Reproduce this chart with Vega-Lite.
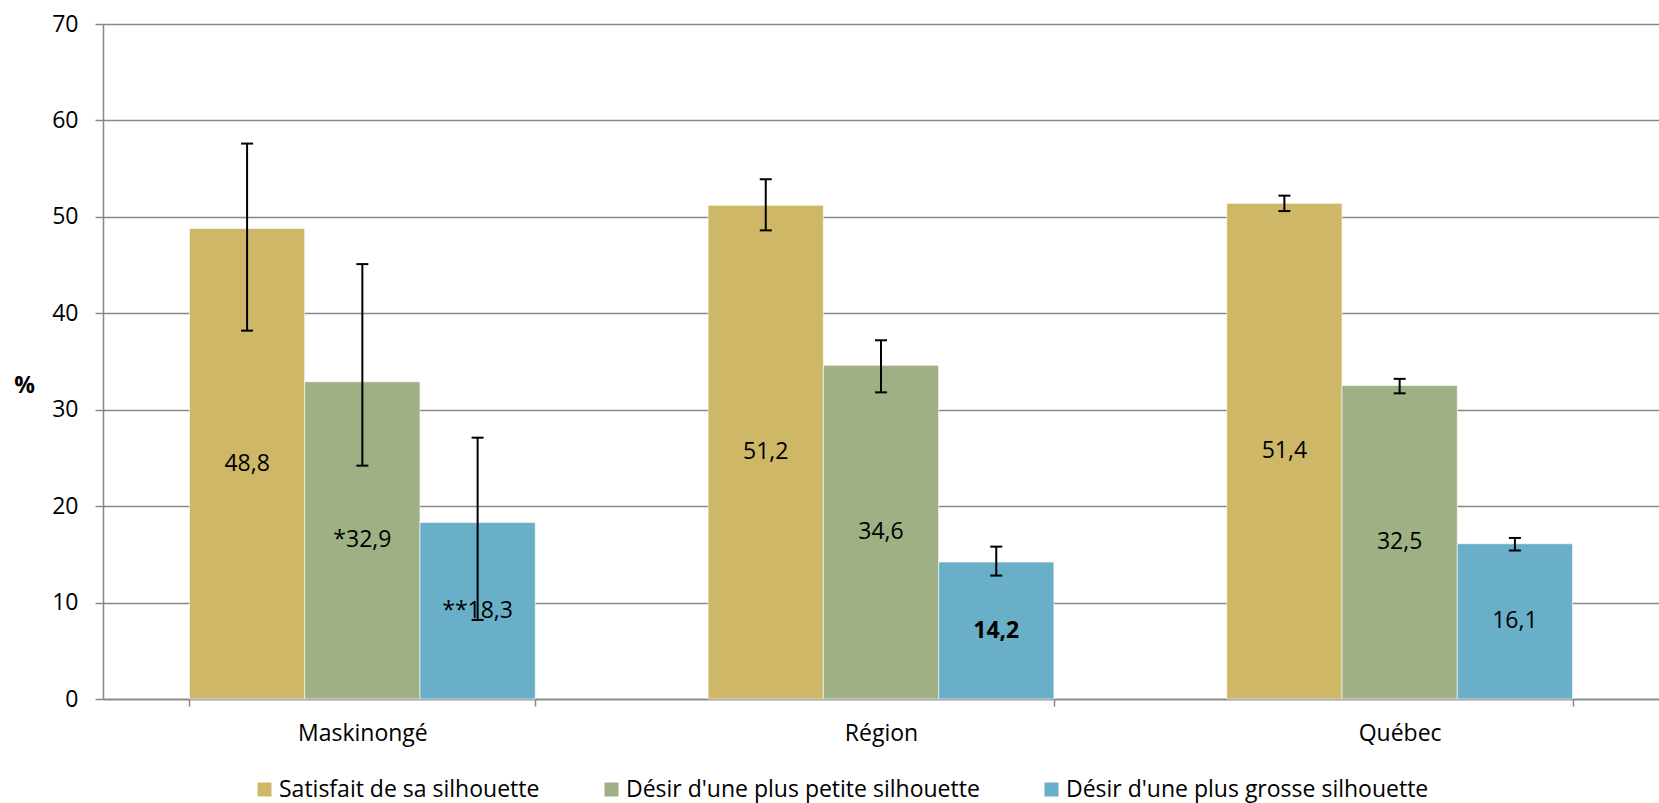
{
  "$schema": "https://vega.github.io/schema/vega-lite/v6.json",
  "width": 1556,
  "height": 675,
  "autosize": {"type": "none"},
  "padding": {"left": 103, "top": 24, "right": 0, "bottom": 104},
  "background": "white",
  "config": {
    "font": "Open Sans",
    "view": {"stroke": null},
    "axis": {"labelFont": "Open Sans", "titleFont": "Open Sans", "labelColor": "#000000", "titleColor": "#000000"},
    "legend": {"labelFont": "Open Sans"}
  },
  "data": {
    "values": [
      {"zone": "Maskinongé", "serie": "Satisfait de sa silhouette", "value": 48.8, "lo": 38.2, "hi": 57.6, "label": "48,8"},
      {"zone": "Maskinongé", "serie": "Désir d'une plus petite silhouette", "value": 32.9, "lo": 24.2, "hi": 45.1, "label": "*32,9"},
      {"zone": "Maskinongé", "serie": "Désir d'une plus grosse silhouette", "value": 18.3, "lo": 8.2, "hi": 27.1, "label": "**18,3"},
      {"zone": "Région", "serie": "Satisfait de sa silhouette", "value": 51.2, "lo": 48.6, "hi": 53.9, "label": "51,2"},
      {"zone": "Région", "serie": "Désir d'une plus petite silhouette", "value": 34.6, "lo": 31.8, "hi": 37.2, "label": "34,6"},
      {"zone": "Région", "serie": "Désir d'une plus grosse silhouette", "value": 14.2, "lo": 12.8, "hi": 15.8, "label": "14,2"},
      {"zone": "Québec", "serie": "Satisfait de sa silhouette", "value": 51.4, "lo": 50.6, "hi": 52.2, "label": "51,4"},
      {"zone": "Québec", "serie": "Désir d'une plus petite silhouette", "value": 32.5, "lo": 31.7, "hi": 33.2, "label": "32,5"},
      {"zone": "Québec", "serie": "Désir d'une plus grosse silhouette", "value": 16.1, "lo": 15.4, "hi": 16.7, "label": "16,1"}
    ]
  },
  "encoding": {
    "x": {
      "field": "zone", "type": "nominal", "sort": ["Maskinongé", "Région", "Québec"],
      "scale": {"paddingInner": 0.3333, "paddingOuter": 0.1667},
      "axis": {
        "title": null, "labelAngle": 0, "labelFontSize": 23, "labelPadding": 16,
        "tickBand": "extent", "tickSize": 7, "tickColor": "#878787", "tickWidth": 1.5,
        "domainColor": "#878787", "domainWidth": 1.5, "grid": false
      }
    },
    "xOffset": {
      "field": "serie", "type": "nominal",
      "sort": ["Satisfait de sa silhouette", "Désir d'une plus petite silhouette", "Désir d'une plus grosse silhouette"],
      "scale": {"paddingInner": 0, "paddingOuter": 0}
    }
  },
  "layer": [
    {
      "mark": {"type": "bar", "stroke": "#ffffff", "strokeWidth": 1, "strokeOpacity": 0.6},
      "encoding": {
        "y": {
          "field": "value", "type": "quantitative",
          "scale": {"domain": [0, 70], "nice": false, "zero": true},
          "axis": {
            "values": [0, 10, 20, 30, 40, 50, 60, 70],
            "labelFontSize": 23, "labelPadding": 17,
            "tickSize": 8, "tickColor": "#878787", "tickWidth": 1.5,
            "domainColor": "#878787", "domainWidth": 1.5,
            "grid": true, "gridColor": "#878787", "gridWidth": 1.5,
            "title": "%", "titleAngle": 0, "titleFontSize": 23, "titleFontWeight": "bold",
            "titleX": -79, "titleY": 361, "titleAlign": "center", "titleBaseline": "middle"
          }
        },
        "color": {
          "field": "serie", "type": "nominal",
          "sort": ["Satisfait de sa silhouette", "Désir d'une plus petite silhouette", "Désir d'une plus grosse silhouette"],
          "scale": {
            "domain": ["Satisfait de sa silhouette", "Désir d'une plus petite silhouette", "Désir d'une plus grosse silhouette"],
            "range": ["#CEB867", "#9EB084", "#6AAFC8"]
          },
          "legend": {
            "title": null, "orient": "none", "direction": "horizontal",
            "legendX": 150, "legendY": 754, "padding": 0,
            "symbolType": "square", "symbolSize": 196, "symbolStrokeWidth": 0, "symbolOpacity": 1,
            "labelFontSize": 23, "labelOffset": 3, "labelLimit": 0, "labelColor": "#000000",
            "columnPadding": 60, "gridAlign": "none"
          }
        }
      }
    },
    {
      "mark": {"type": "rule", "color": "#000000", "strokeWidth": 2},
      "encoding": {
        "y": {"field": "lo", "type": "quantitative", "scale": {"domain": [0, 70], "nice": false}, "axis": null},
        "y2": {"field": "hi"}
      }
    },
    {
      "mark": {"type": "tick", "color": "#000000", "thickness": 2, "size": 12, "opacity": 1},
      "encoding": {
        "y": {"field": "lo", "type": "quantitative", "scale": {"domain": [0, 70], "nice": false}, "axis": null}
      }
    },
    {
      "mark": {"type": "tick", "color": "#000000", "thickness": 2, "size": 12, "opacity": 1},
      "encoding": {
        "y": {"field": "hi", "type": "quantitative", "scale": {"domain": [0, 70], "nice": false}, "axis": null}
      }
    },
    {
      "transform": [{"filter": "datum.label !== '14,2'"}],
      "mark": {"type": "text", "fontSize": 23, "color": "#000000", "baseline": "middle", "align": "center"},
      "encoding": {
        "y": {"field": "value", "type": "quantitative", "scale": {"domain": [0, 140], "nice": false}, "axis": null},
        "text": {"field": "label"}
      }
    },
    {
      "transform": [{"filter": "datum.label === '14,2'"}],
      "mark": {"type": "text", "fontSize": 23, "fontWeight": "bold", "color": "#000000", "baseline": "middle", "align": "center"},
      "encoding": {
        "y": {"field": "value", "type": "quantitative", "scale": {"domain": [0, 140], "nice": false}, "axis": null},
        "text": {"field": "label"}
      }
    }
  ],
  "resolve": {"scale": {"y": "independent"}}
}
